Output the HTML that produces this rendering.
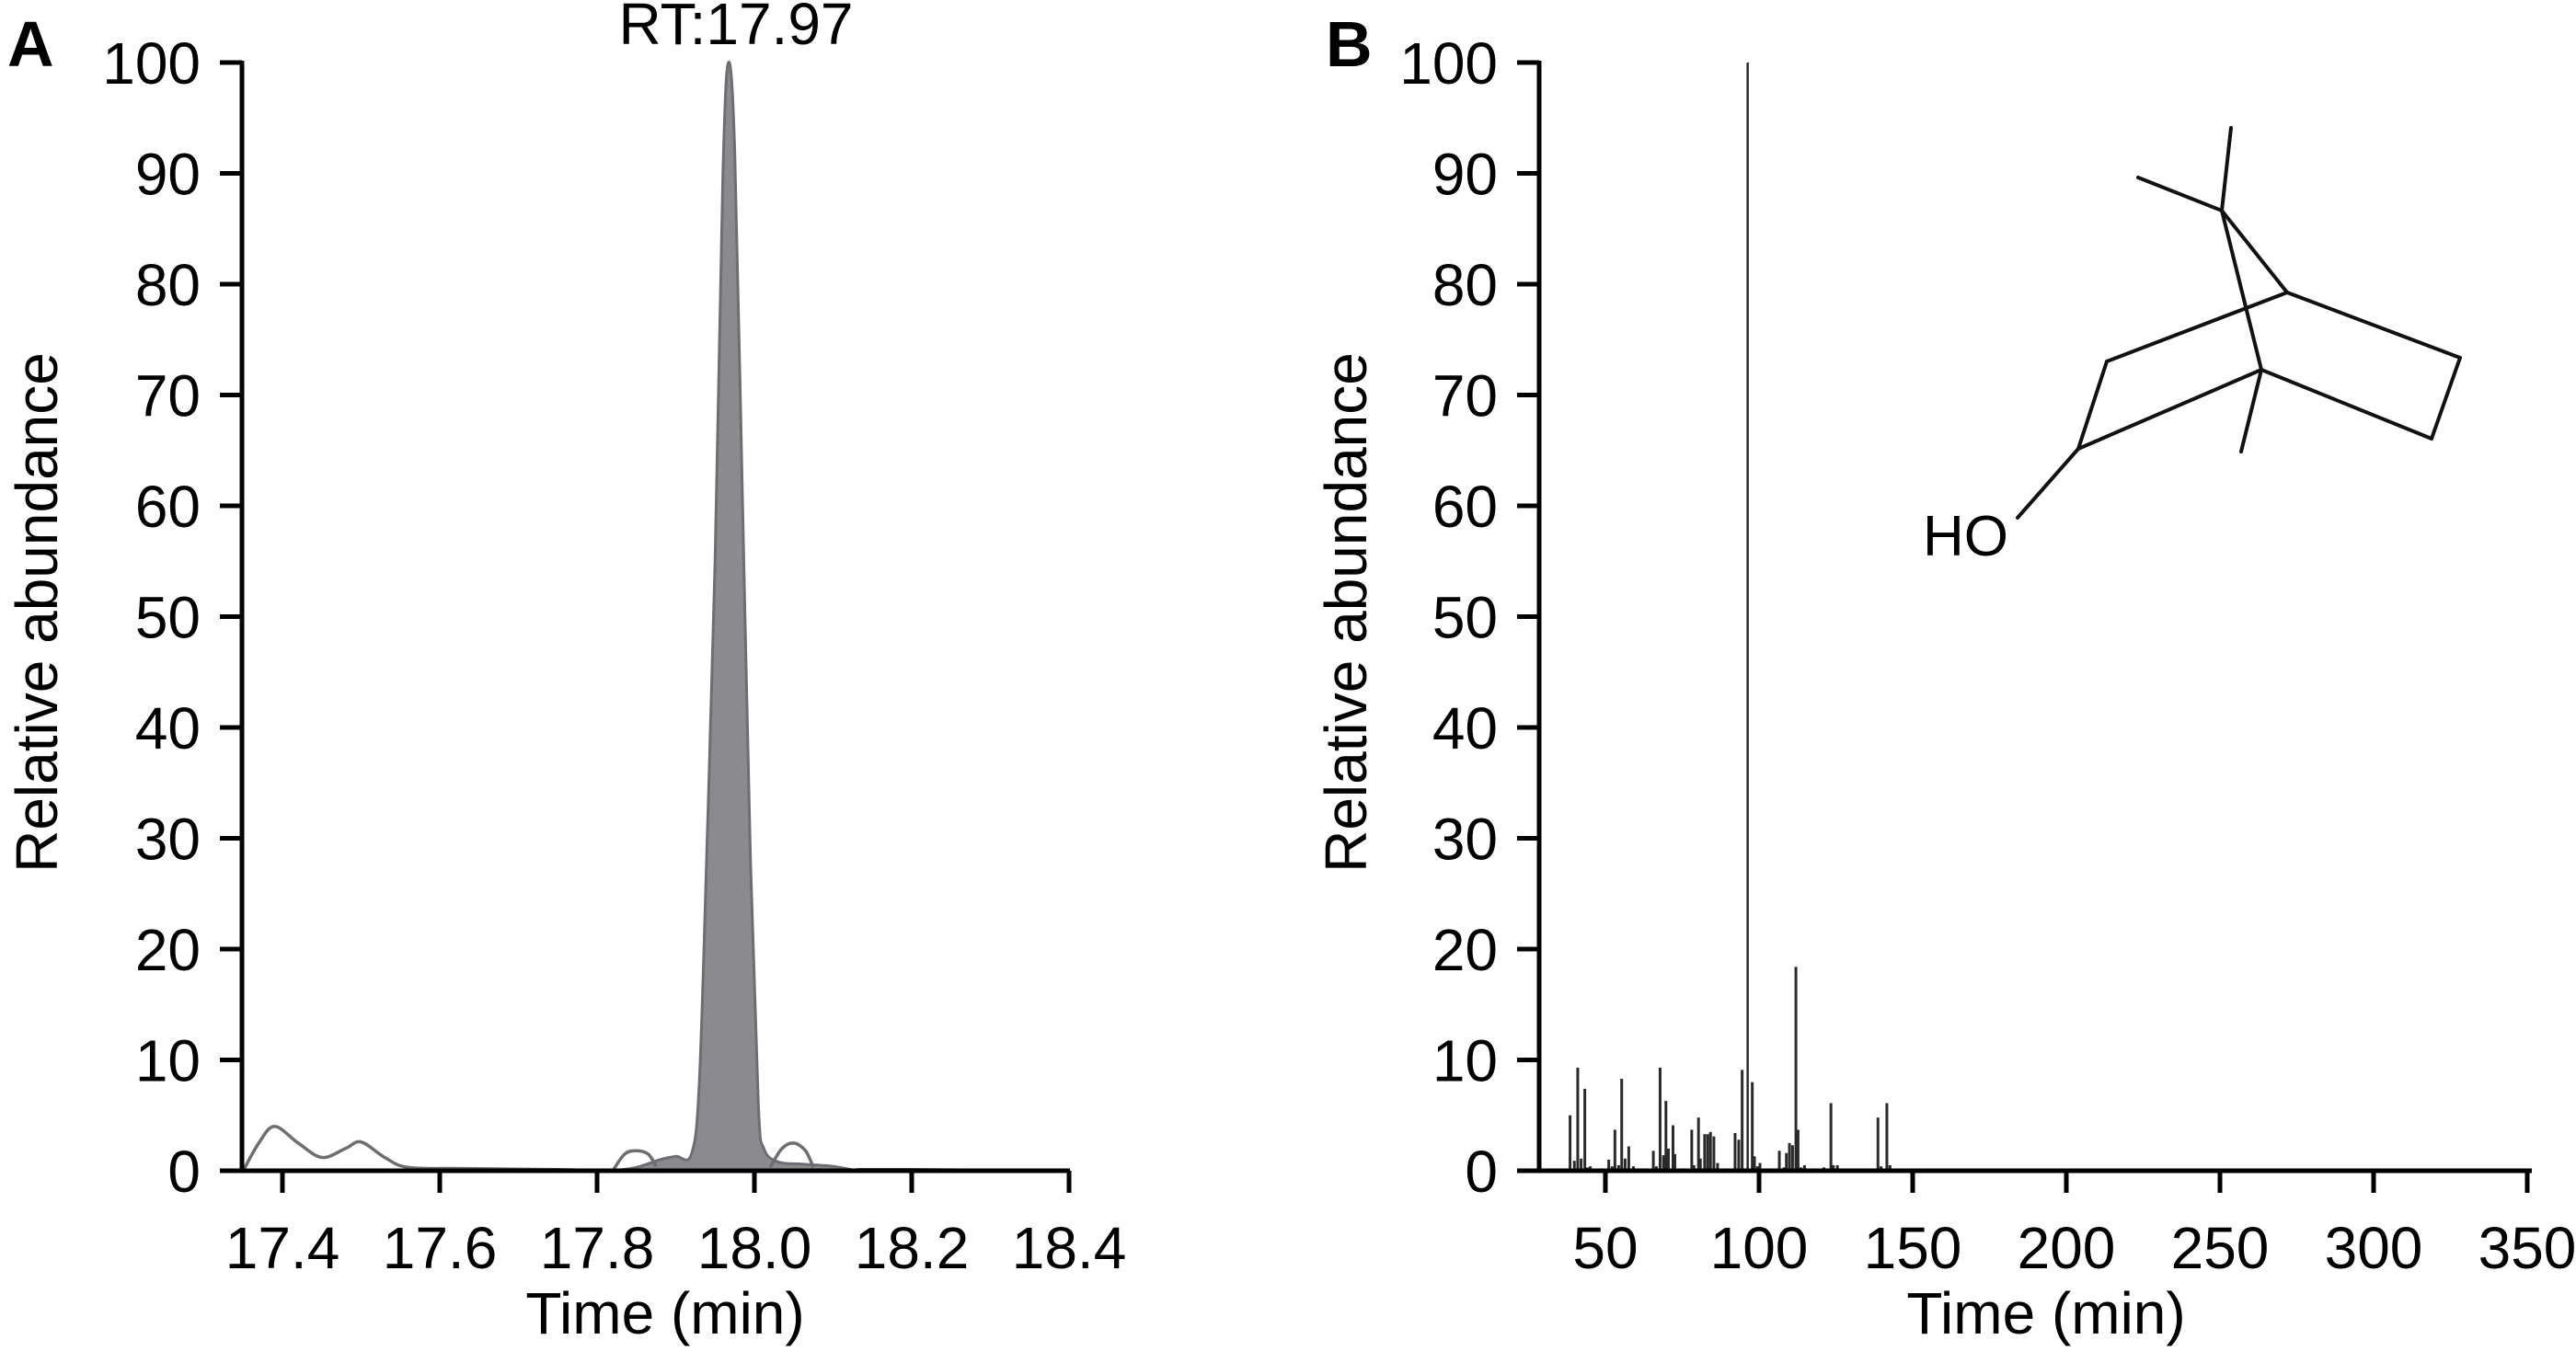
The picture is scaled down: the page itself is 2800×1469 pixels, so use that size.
<!DOCTYPE html>
<html><head><meta charset="utf-8"><style>
html,body{margin:0;padding:0;background:#fff;}
svg{display:block;font-family:"Liberation Sans",Arial,sans-serif;}
</style></head><body>
<svg id="fig" width="2800" height="1469" viewBox="0 0 2800 1469" xmlns="http://www.w3.org/2000/svg">
<g id="panelA"></g>
<g id="panelB"></g>
<g id="molecule" stroke="#111" stroke-width="4" fill="none" stroke-linecap="round">
<line x1="2425" y1="139" x2="2415" y2="229"/>
<line x1="2324" y1="193" x2="2415" y2="229"/>
<line x1="2415" y1="229" x2="2458" y2="402"/>
<line x1="2458" y1="402" x2="2436" y2="491"/>
<line x1="2415" y1="229" x2="2486" y2="318"/>
<line x1="2486" y1="318" x2="2290" y2="393"/>
<line x1="2486" y1="318" x2="2674" y2="389"/>
<line x1="2674" y1="389" x2="2643" y2="477"/>
<line x1="2643" y1="477" x2="2458" y2="402"/>
<line x1="2458" y1="402" x2="2259" y2="488"/>
<line x1="2290" y1="393" x2="2259" y2="488"/>
<line x1="2259" y1="488" x2="2193" y2="563"/>
</g>
<text x="2090" y="604" font-size="62" fill="#000">HO</text>
</svg>
<script>
// ---------- Panel A data ----------
const aXTicks = [17.4, 17.6, 17.8, 18.0, 18.2, 18.4];
const aXTickLabels = ["17.4", "17.6", "17.8", "18.0", "18.2", "18.4"];
const yTicks = [0, 10, 20, 30, 40, 50, 60, 70, 80, 90, 100];
const peakTime = [17.82, 17.85, 17.88, 17.90, 17.92, 17.93, 17.94, 17.95, 17.96, 17.967, 17.975, 17.985, 17.995, 18.005, 18.012, 18.03, 18.06, 18.10, 18.13];
const peakAbund = [0, 0.3, 1.0, 1.3, 1.5, 8, 30, 55, 90, 100, 92, 60, 28, 6, 2, 0.8, 0.6, 0.4, 0];
const noiseTime = [17.35, 17.37, 17.39, 17.42, 17.45, 17.48, 17.50, 17.53, 17.56, 17.63, 17.75, 17.82];
const noiseAbund = [0, 2.5, 4, 2.5, 1.2, 2, 2.6, 1.2, 0.3, 0.2, 0.1, 0];
const loop1Time = [17.82, 17.835, 17.85, 17.865, 17.875];
const loop1Abund = [0, 1.5, 1.8, 1.5, 0.4];
const loop2Time = [18.02, 18.035, 18.05, 18.065, 18.075];
const loop2Abund = [0.3, 2.0, 2.5, 1.8, 0.3];
const tailTime = [18.13, 18.2, 18.3, 18.4];
const tailAbund = [0.1, 0.1, 0.05, 0.05];
// ---------- Panel B data ----------
const bXTicks = [50, 100, 150, 200, 250, 300, 350];
const bXTickLabels = ["50", "100", "150", "200", "250", "300", "350"];
const mzValues = [38.5,39.9,41.0,42.1,43.3,44.2,45.1,50.5,51.1,52.2,53.1,54.3,55.3,56.4,57.6,59.1,63.4,65.6,66.6,67.8,68.9,69.7,70.5,72.0,72.6,78.1,78.8,80.3,80.9,82.3,83.3,84.2,85.3,86.5,92.2,93.4,94.5,96.3,97.8,98.5,99.5,100.3,104.5,106.6,108.1,108.9,109.9,110.9,112.0,112.7,113.7,114.8,121.1,123.4,124.2,125.5,127.3,138.7,139.7,141.6,142.6];
const intensities = [5.0,0.9,9.3,1.1,7.4,0.3,0.4,0.2,1.0,0.4,3.7,0.5,8.3,1.1,2.2,0.4,0.2,1.8,0.4,9.3,1.4,6.3,2.0,4.1,1.5,3.7,0.5,4.8,1.1,3.3,3.3,3.5,3.1,0.7,3.4,2.8,9.1,100,8.0,1.3,0.4,0.7,0.1,1.8,0.3,1.6,2.5,2.3,18.4,3.7,0.3,0.5,0.3,6.1,0.5,0.5,0.2,4.8,0.4,6.1,0.5];

const NS = "http://www.w3.org/2000/svg";
function mk(parent, tag, attrs, text) {
  const e = document.createElementNS(NS, tag);
  for (const k in attrs) e.setAttribute(k, attrs[k]);
  if (text !== undefined) e.textContent = text;
  parent.appendChild(e);
  return e;
}
const Y0 = 1273, Y100 = 68;
function yScale(v) { return Y0 - (v / 100) * (Y0 - Y100); }
function axA(t) { return 307 + (t - 17.4) * 855; }
function axB(m) { return 1745 + (m - 50) * (1002 / 300); }

function smoothPath(xs, ys) {
  const p = xs.map((x, i) => [x, ys[i]]);
  let d = "M" + p[0][0] + "," + p[0][1];
  for (let i = 0; i < p.length - 1; i++) {
    const p0 = p[i - 1] || p[i], p1 = p[i], p2 = p[i + 1], p3 = p[i + 2] || p2;
    const c1x = p1[0] + (p2[0] - p0[0]) / 6, c1y = p1[1] + (p2[1] - p0[1]) / 6;
    const c2x = p2[0] - (p3[0] - p1[0]) / 6, c2y = p2[1] - (p3[1] - p1[1]) / 6;
    d += " C" + c1x + "," + c1y + " " + c2x + "," + c2y + " " + p2[0] + "," + p2[1];
  }
  return d;
}

function drawAxes(g, axisL, axisR, xTicks, xLabels, xf, name) {
  const yl = mk(g, "line", {x1: axisL, y1: Y100 - 2, x2: axisL, y2: Y0 + 2, stroke: "#000", "stroke-width": 5});
  
  
  const xl = mk(g, "line", {x1: axisL - 2, y1: Y0, x2: axisR, y2: Y0, stroke: "#000", "stroke-width": 5});
  
  
  yTicks.forEach(v => {
    const y = yScale(v);
    const t = mk(g, "line", {x1: axisL - 24, y1: y, x2: axisL, y2: y, stroke: "#000", "stroke-width": 5});
    
    
    const l = mk(g, "text", {x: axisL - 45, y: y + 23, "font-size": 64, "text-anchor": "end"}, String(v));
    
    
  });
  xTicks.forEach((v, i) => {
    const x = xf(v);
    const t = mk(g, "line", {x1: x, y1: Y0, x2: x, y2: Y0 + 24, stroke: "#000", "stroke-width": 5});
    
    
    const l = mk(g, "text", {x: x, y: 1379, "font-size": 64, "text-anchor": "middle"}, xLabels[i]);
    
    
  });
}

// Panel A
const gA = document.getElementById("panelA");
const fillX = peakTime.map(axA), fillY = peakAbund.map(yScale);
const area = mk(gA, "path", {d: smoothPath(fillX, fillY) + " Z", fill: "#8b8a8f", stroke: "#6e6e72", "stroke-width": 3});


[[noiseTime, noiseAbund, 'noise-trace'], [loop1Time, loop1Abund, 'shoulder-left'], [loop2Time, loop2Abund, 'shoulder-right'], [tailTime, tailAbund, 'baseline-tail']].forEach(s => {
  const p = mk(gA, "path", {d: smoothPath(s[0].map(axA), s[1].map(yScale)), fill: "none", stroke: "#6e6e72", "stroke-width": 3.5});
  
  
});
drawAxes(gA, 263, 1163, aXTicks, aXTickLabels, axA, 'panel-a');
const rt = mk(gA, "text", {x: 800, y: 48, "font-size": 64, "text-anchor": "middle"}, "RT:17.97");


const la = mk(gA, "text", {x: 8, y: 72, "font-size": 70, "font-weight": "bold"}, "A");


const yta = mk(gA, "text", {x: 0, y: 0, "font-size": 64, "text-anchor": "middle", transform: "translate(62,666) rotate(-90)"}, "Relative abundance");


const xta = mk(gA, "text", {x: 723, y: 1450, "font-size": 64, "text-anchor": "middle"}, "Time (min)");



// Panel B
const gB = document.getElementById("panelB");
mzValues.forEach((m, i) => {
  const x = axB(m);
  const b = mk(gB, "line", {x1: x, y1: Y0, x2: x, y2: yScale(intensities[i]), stroke: "#2a2a2a", "stroke-width": intensities[i] > 50 ? 2.5 : 3});
  
  
});
drawAxes(gB, 1673, 2752, bXTicks, bXTickLabels, axB, 'panel-b');
const lb = mk(gB, "text", {x: 1441, y: 72, "font-size": 70, "font-weight": "bold"}, "B");


const ytb = mk(gB, "text", {x: 0, y: 0, "font-size": 64, "text-anchor": "middle", transform: "translate(1485,666) rotate(-90)"}, "Relative abundance");


const xtb = mk(gB, "text", {x: 2224, y: 1450, "font-size": 64, "text-anchor": "middle"}, "Time (min)");


</script>
</body></html>
